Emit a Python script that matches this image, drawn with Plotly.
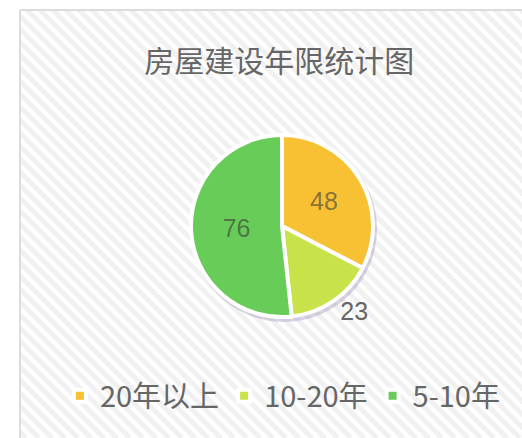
import plotly.graph_objects as go

# data
labels = ["20年以上", "10-20年", "5-10年"]
values = [48, 23, 76]
colors = ["#F8C134", "#C8E34A", "#68CC58"]
text_pos = ["inside", "outside", "inside"]

W, H = 522, 438


def px_x(x):
    return x / W


def px_y(y):
    return 1 - y / H


shapes = []

# striped card background
step = 13
c = -H
while c < W + 20:
    shapes.append(dict(type="line", xref="paper", yref="paper",
                       x0=px_x(c), y0=px_y(0), x1=px_x(c + H), y1=px_y(H),
                       line=dict(color="#f1f1f1", width=5), layer="below"))
    c += step

# blank out area outside the card
shapes.append(dict(type="rect", xref="paper", yref="paper", x0=0, x1=1, y0=px_y(10), y1=1,
                   fillcolor="white", line=dict(width=0), layer="below"))
shapes.append(dict(type="rect", xref="paper", yref="paper", x0=0, x1=px_x(20), y0=0, y1=1,
                   fillcolor="white", line=dict(width=0), layer="below"))
# card border
shapes.append(dict(type="line", xref="paper", yref="paper", x0=px_x(20), x1=1, y0=px_y(10), y1=px_y(10),
                   line=dict(color="#dcdcdc", width=2), layer="below"))
shapes.append(dict(type="line", xref="paper", yref="paper", x0=px_x(20), x1=px_x(20), y0=px_y(10), y1=0,
                   line=dict(color="#dcdcdc", width=2), layer="below"))

# soft shadow under the pie
cx, cy, r = 284, 229, 93
shapes.append(dict(type="circle", xref="paper", yref="paper",
                   x0=px_x(cx - r), x1=px_x(cx + r), y0=px_y(cy + r), y1=px_y(cy - r),
                   fillcolor="rgba(150,130,175,0.35)", line=dict(width=0), layer="below"))

pcx, pcy, pr = 282, 226, 91
fig = go.Figure(go.Pie(
    labels=labels,
    values=values,
    sort=False,
    direction="clockwise",
    rotation=0,
    textinfo="value",
    textposition=text_pos,
    insidetextorientation="horizontal",
    marker=dict(colors=colors, line=dict(color="white", width=4)),
    insidetextfont=dict(family="Liberation Sans, Arial", size=25, color="rgba(60,60,60,0.6)"),
    outsidetextfont=dict(family="Liberation Sans, Arial", size=25, color="#666666"),
    domain=dict(x=[px_x(pcx - pr), px_x(pcx + pr)], y=[px_y(pcy + pr), px_y(pcy - pr)]),
    hoverinfo="none",
))

fig.update_layout(
    width=W, height=H,
    margin=dict(l=0, r=0, t=0, b=0),
    paper_bgcolor="white",
    plot_bgcolor="white",
    shapes=shapes,
    title=dict(text="房屋建设年限统计图", x=0.535, xanchor="center", y=px_y(61), yanchor="middle",
               font=dict(family="Noto Sans CJK SC", size=30, color="#666666")),
    showlegend=True,
    legend=dict(orientation="h", x=0.542, xanchor="center", y=px_y(396), yanchor="middle",
                font=dict(family="Noto Sans CJK SC, Liberation Sans", size=29, color="#666666"),
                bgcolor="rgba(0,0,0,0)", itemclick=False),
)

fig.write_html("out.html", config={"displayModeBar": False},
               post_script="document.body.style.margin='0';")
